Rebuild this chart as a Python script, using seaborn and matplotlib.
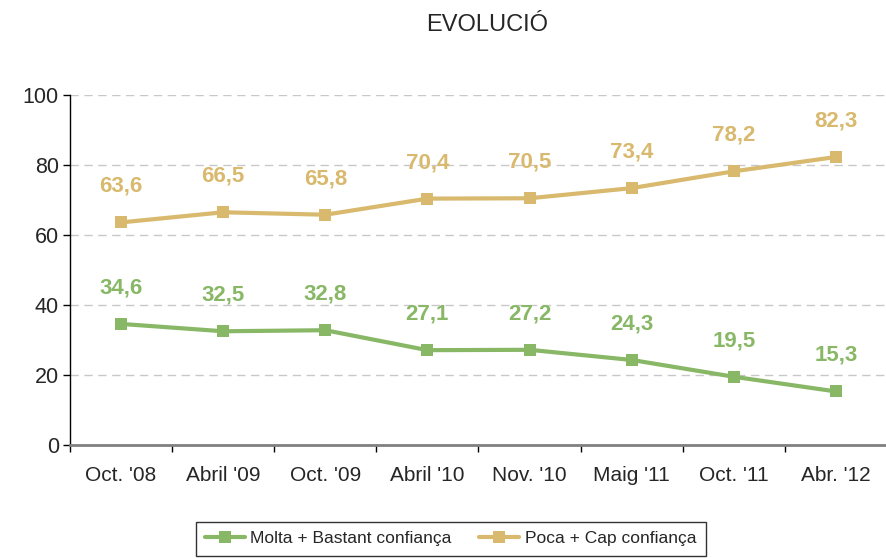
import matplotlib
matplotlib.use("Agg")
import matplotlib.pyplot as plt
import numpy as np
import pandas as pd
import seaborn as sns

# Data
periods = ["Oct. '08", "Abril '09", "Oct. '09", "Abril '10", "Nov. '10", "Maig '11", "Oct. '11", "Abr. '12"]
molta_bastant = [34.6, 32.5, 32.8, 27.1, 27.2, 24.3, 19.5, 15.3]
poca_cap = [63.6, 66.5, 65.8, 70.4, 70.5, 73.4, 78.2, 82.3]
series_names = ["Molta + Bastant confiança", "Poca + Cap confiança"]
colors = ["#88B866", "#D8B96D"]

df = pd.DataFrame({
    "pos": list(range(len(periods))) * 2,
    "valor": molta_bastant + poca_cap,
    "serie": [series_names[0]] * len(periods) + [series_names[1]] * len(periods),
})

sns.set_style("white")
plt.rcParams["font.family"] = ["Liberation Sans", "DejaVu Sans"]

fig = plt.figure(figsize=(8.87, 5.58), dpi=100)
ax = fig.add_axes([0.0789, 0.2025, 1.0 - 0.0789, 0.6272])

sns.lineplot(data=df, x="pos", y="valor", hue="serie", palette=colors,
             marker="s", markersize=9, markeredgewidth=0, linewidth=3,
             ax=ax, legend=True)

# data labels
for vals, col in zip([molta_bastant, poca_cap], colors):
    for i, v in enumerate(vals):
        ax.annotate(f"{v:.1f}".replace(".", ","), (i, v), xytext=(0, 26),
                    textcoords="offset points", ha="center", va="center",
                    fontsize=16, fontweight="bold", color=col)

ax.set_ylim(0, 100)
ax.set_yticks([0, 20, 40, 60, 80, 100])
ax.set_xlim(-0.5, 7.356)
ax.set_xticks(range(len(periods)))
ax.set_xticklabels(periods)
ax.set_xticks(np.arange(-0.5, 8, 1), minor=True)
ax.tick_params(axis="x", which="major", length=0, pad=15, labelsize=15)
ax.tick_params(axis="x", which="minor", length=5, width=1, color="black", direction="out", bottom=True)
ax.tick_params(axis="y", length=5, width=1, color="black", direction="out", left=True, labelsize=15.5, pad=3)
ax.set_xlabel("")
ax.set_ylabel("")

ax.grid(axis="y", linestyle=(0, (6, 4)), color="#C8C8C8", linewidth=1)
ax.set_axisbelow(True)
for s in ["top", "right"]:
    ax.spines[s].set_visible(False)
ax.spines["left"].set_color("black")
ax.spines["left"].set_linewidth(1)
ax.spines["bottom"].set_color("#808080")
ax.spines["bottom"].set_linewidth(2)

fig.text(0.549, 0.955, "EVOLUCIÓ", ha="center", va="center", fontsize=17)

handles, labels = ax.get_legend_handles_labels()
ax.get_legend().remove()
leg = fig.legend(handles, labels, loc="upper center", bbox_to_anchor=(0.508, 0.065),
                 ncol=2, fontsize=12.5, frameon=True, fancybox=False,
                 edgecolor="black", handlelength=2.3, handletextpad=0.3,
                 columnspacing=1.6, borderpad=0.55, borderaxespad=0)
leg.get_frame().set_linewidth(1)

fig.savefig("out.png", dpi=100)
